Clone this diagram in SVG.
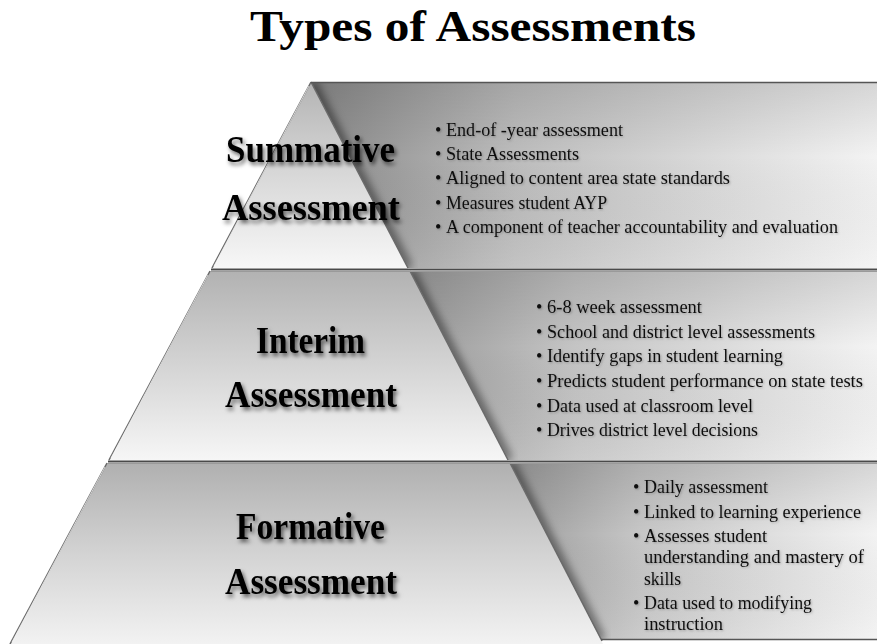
<svg xmlns="http://www.w3.org/2000/svg" width="877" height="644" viewBox="0 0 877 644">
<style>
.title{font-family:"Liberation Serif","DejaVu Serif",serif;font-weight:bold;font-size:44px;fill:#000}
.lbl{font-family:"Liberation Serif","DejaVu Serif",serif;font-weight:bold;font-size:37px;fill:#000;filter:url(#tsh)}
.bul{font-family:"Liberation Serif","DejaVu Serif",serif;font-size:18px;fill:#111;filter:url(#bsh)}
.edge{stroke:#6a6a6a;stroke-width:1.5;fill:none}
.sep{stroke:#4a4a4a;stroke-width:2;fill:none}
.hl{stroke:#ffffff;stroke-opacity:0.7;stroke-width:1;fill:none}
</style>
<defs>
<filter id="tsh" x="-10%" y="-20%" width="130%" height="160%">
<feDropShadow dx="2" dy="3" stdDeviation="2.2" flood-color="#000" flood-opacity="0.6"/>
</filter>
<filter id="bsh" x="-5%" y="-20%" width="110%" height="160%">
<feDropShadow dx="1" dy="1" stdDeviation="0.8" flood-color="#000" flood-opacity="0.25"/>
</filter>
<filter id="blur4"><feGaussianBlur stdDeviation="4"/></filter>
<linearGradient id="face1" gradientUnits="userSpaceOnUse" x1="0" y1="82" x2="0" y2="268">
<stop offset="0" stop-color="#b4b4b4"/><stop offset="0.5" stop-color="#d8d8d8"/><stop offset="1" stop-color="#f7f7f7"/>
</linearGradient>
<linearGradient id="face2" gradientUnits="userSpaceOnUse" x1="0" y1="271" x2="0" y2="460">
<stop offset="0" stop-color="#b2b2b2"/><stop offset="0.5" stop-color="#d4d4d4"/><stop offset="1" stop-color="#f6f6f6"/>
</linearGradient>
<linearGradient id="face3" gradientUnits="userSpaceOnUse" x1="0" y1="463" x2="0" y2="644">
<stop offset="0" stop-color="#b0b0b0"/><stop offset="0.5" stop-color="#d3d3d3"/><stop offset="1" stop-color="#f2f2f2"/>
</linearGradient>
<linearGradient id="pan1" gradientUnits="userSpaceOnUse" x1="320" y1="0" x2="877" y2="0">
<stop offset="0" stop-color="#8c8c8c"/><stop offset="0.35" stop-color="#bdbdbd"/><stop offset="1" stop-color="#f3f3f3"/>
</linearGradient>
<linearGradient id="pan2" gradientUnits="userSpaceOnUse" x1="410" y1="0" x2="877" y2="0">
<stop offset="0" stop-color="#9a9a9a"/><stop offset="0.35" stop-color="#c4c4c4"/><stop offset="1" stop-color="#f3f3f3"/>
</linearGradient>
<linearGradient id="pan3" gradientUnits="userSpaceOnUse" x1="510" y1="0" x2="877" y2="0">
<stop offset="0" stop-color="#9c9c9c"/><stop offset="0.35" stop-color="#c6c6c6"/><stop offset="1" stop-color="#f3f3f3"/>
</linearGradient>
<linearGradient id="vshade" gradientUnits="objectBoundingBox" x1="0" y1="0" x2="0" y2="1">
<stop offset="0" stop-color="#000" stop-opacity="0.12"/><stop offset="0.4" stop-color="#000" stop-opacity="0"/><stop offset="1" stop-color="#fff" stop-opacity="0.1"/>
</linearGradient>
<clipPath id="cp1"><polygon points="311,82 877,82 877,268 408,268"/></clipPath>
<clipPath id="cp2"><polygon points="410,271 877,271 877,460 508,460"/></clipPath>
<clipPath id="cp3"><polygon points="510,463 877,463 877,640 601,640"/></clipPath>
</defs>

<rect x="0" y="0" width="877" height="644" fill="#ffffff"/>

<text class="title" x="250" y="41" textLength="446" lengthAdjust="spacingAndGlyphs">Types of Assessments</text>

<g id="tier-summative">
<polygon points="311,82 877,82 877,268 408,268" fill="url(#pan1)"/>
<polygon points="311,82 877,82 877,268 408,268" fill="url(#vshade)"/>
<g clip-path="url(#cp1)"><line x1="311" y1="82" x2="408" y2="268" stroke="#000" stroke-opacity="0.45" stroke-width="10" filter="url(#blur4)"/></g>
<polygon points="311,82 212,268 408,268" fill="url(#face1)"/>
<line class="edge" x1="311" y1="82" x2="212" y2="268"/>
<line class="edge" x1="311" y1="82" x2="408" y2="268"/>
<line class="hl" x1="309" y1="86" x2="214" y2="266"/>
<line x1="311" y1="82.5" x2="877" y2="82.5" stroke="#555" stroke-width="1.5"/>
<text class="lbl" x="226" y="162" textLength="169" lengthAdjust="spacingAndGlyphs">Summative</text>
<text class="lbl" x="222" y="220" textLength="178" lengthAdjust="spacingAndGlyphs">Assessment</text>
<text class="bul"><tspan x="435" y="136">•</tspan><tspan x="446" y="136" textLength="177" lengthAdjust="spacingAndGlyphs">End-of -year assessment</tspan></text>
<text class="bul"><tspan x="435" y="160">•</tspan><tspan x="446" y="160" textLength="133" lengthAdjust="spacingAndGlyphs">State Assessments</tspan></text>
<text class="bul"><tspan x="435" y="184">•</tspan><tspan x="446" y="184" textLength="284" lengthAdjust="spacingAndGlyphs">Aligned to content area state standards</tspan></text>
<text class="bul"><tspan x="435" y="209">•</tspan><tspan x="446" y="209" textLength="161" lengthAdjust="spacingAndGlyphs">Measures student AYP</tspan></text>
<text class="bul"><tspan x="435" y="233">•</tspan><tspan x="446" y="233" textLength="392" lengthAdjust="spacingAndGlyphs">A component of teacher accountability and evaluation</tspan></text>
</g>

<g id="tier-interim">
<polygon points="410,271 877,271 877,460 508,460" fill="url(#pan2)"/>
<polygon points="410,271 877,271 877,460 508,460" fill="url(#vshade)"/>
<g clip-path="url(#cp2)"><line x1="410" y1="271" x2="508" y2="460" stroke="#000" stroke-opacity="0.45" stroke-width="10" filter="url(#blur4)"/></g>
<polygon points="210,271 410,271 508,460 109,460" fill="url(#face2)"/>
<line class="edge" x1="210" y1="271" x2="109" y2="460"/>
<line class="edge" x1="410" y1="271" x2="508" y2="460"/>
<line class="hl" x1="208" y1="275" x2="111" y2="458"/>
<text class="lbl" x="256" y="353" textLength="109" lengthAdjust="spacingAndGlyphs">Interim</text>
<text class="lbl" x="225" y="407" textLength="172" lengthAdjust="spacingAndGlyphs">Assessment</text>
<text class="bul"><tspan x="536" y="313">•</tspan><tspan x="547" y="313" textLength="155" lengthAdjust="spacingAndGlyphs">6-8 week assessment</tspan></text>
<text class="bul"><tspan x="536" y="338">•</tspan><tspan x="547" y="338" textLength="268" lengthAdjust="spacingAndGlyphs">School and district level assessments</tspan></text>
<text class="bul"><tspan x="536" y="362">•</tspan><tspan x="547" y="362" textLength="236" lengthAdjust="spacingAndGlyphs">Identify gaps in student learning</tspan></text>
<text class="bul"><tspan x="536" y="387">•</tspan><tspan x="547" y="387" textLength="316" lengthAdjust="spacingAndGlyphs">Predicts student performance on state tests</tspan></text>
<text class="bul"><tspan x="536" y="412">•</tspan><tspan x="547" y="412" textLength="206" lengthAdjust="spacingAndGlyphs">Data used at classroom level</tspan></text>
<text class="bul"><tspan x="536" y="436">•</tspan><tspan x="547" y="436" textLength="211" lengthAdjust="spacingAndGlyphs">Drives district level decisions</tspan></text>
</g>

<g id="tier-formative">
<polygon points="510,463 877,463 877,640 601,640" fill="url(#pan3)"/>
<polygon points="510,463 877,463 877,640 601,640" fill="url(#vshade)"/>
<g clip-path="url(#cp3)"><line x1="510" y1="463" x2="601" y2="640" stroke="#000" stroke-opacity="0.45" stroke-width="10" filter="url(#blur4)"/></g>
<polygon points="107,463 510,463 603,644 10,644" fill="url(#face3)"/>
<line class="edge" x1="107" y1="463" x2="10" y2="644"/>
<line class="edge" x1="510" y1="463" x2="602" y2="641"/>
<line class="hl" x1="105" y1="467" x2="12" y2="642"/>
<line x1="601" y1="639.5" x2="877" y2="639.5" stroke="#555" stroke-width="1.5"/>
<text class="lbl" x="236" y="539" textLength="149" lengthAdjust="spacingAndGlyphs">Formative</text>
<text class="lbl" x="225" y="594" textLength="172" lengthAdjust="spacingAndGlyphs">Assessment</text>
<text class="bul"><tspan x="633" y="493">•</tspan><tspan x="644" y="493" textLength="124" lengthAdjust="spacingAndGlyphs">Daily assessment</tspan></text>
<text class="bul"><tspan x="633" y="518">•</tspan><tspan x="644" y="518" textLength="217" lengthAdjust="spacingAndGlyphs">Linked to learning experience</tspan></text>
<text class="bul"><tspan x="633" y="542">•</tspan><tspan x="644" y="542" textLength="123" lengthAdjust="spacingAndGlyphs">Assesses student</tspan></text>
<text class="bul"><tspan x="644" y="563" textLength="220" lengthAdjust="spacingAndGlyphs">understanding and mastery of</tspan></text>
<text class="bul"><tspan x="644" y="585" textLength="37" lengthAdjust="spacingAndGlyphs">skills</tspan></text>
<text class="bul"><tspan x="633" y="609">•</tspan><tspan x="644" y="609" textLength="168" lengthAdjust="spacingAndGlyphs">Data used to modifying</tspan></text>
<text class="bul"><tspan x="644" y="630" textLength="79" lengthAdjust="spacingAndGlyphs">instruction</tspan></text>
</g>

<g id="separators">
<line class="sep" x1="211" y1="269.5" x2="877" y2="269.5"/>
<line x1="210" y1="271.5" x2="877" y2="271.5" stroke="#9a9a9a" stroke-width="1"/>
<line class="sep" x1="108" y1="461.5" x2="877" y2="461.5"/>
<line x1="107" y1="463.5" x2="877" y2="463.5" stroke="#9a9a9a" stroke-width="1"/>
</g>
</svg>
